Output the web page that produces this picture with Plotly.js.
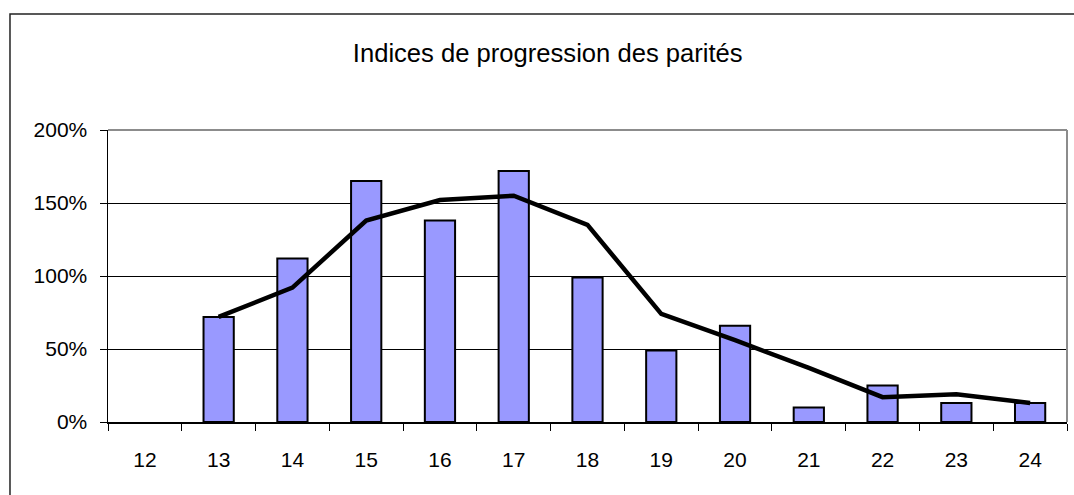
<!DOCTYPE html>
<html>
<head>
<meta charset="utf-8">
<script src="https://cdn.plot.ly/plotly-3.0.1.min.js"></script>
<style>
  html, body { margin: 0; padding: 0; background: #fff; }
  #chart { width: 1074px; height: 495px; }
</style>
</head>
<body>
<div id="chart"></div>
<script>
// Parity ages (categories) and their progression indices, in percent
const parites = ['12', '13', '14', '15', '16', '17', '18', '19', '20', '21', '22', '23', '24'];
const indices = [null, 72, 112, 165, 138, 172, 99, 49, 66, 10, 25, 13, 13];
const tendance = [null, 72, 92, 138, 152, 155, 135, 74, 56, 37, 17, 19, 13];
const yTicks = [0, 50, 100, 150, 200];

const FONT = 'Liberation Sans, Arial, sans-serif';

const traces = [
  {
    type: 'bar',
    x: parites,
    y: indices,
    width: 0.41,
    marker: { color: '#9999FF', line: { color: '#000000', width: 2 } },
    hoverinfo: 'x+y'
  },
  {
    type: 'scatter',
    mode: 'lines',
    x: parites,
    y: tendance,
    line: { color: '#000000', width: 4.5 },
    connectgaps: false,
    hoverinfo: 'x+y'
  }
];

const layout = {
  width: 1074,
  height: 495,
  margin: { l: 108, r: 7, t: 130, b: 73 },
  paper_bgcolor: '#ffffff',
  plot_bgcolor: '#ffffff',
  showlegend: false,
  font: { family: FONT, color: '#000000' },
  title: {
    text: 'Indices de progression des parités',
    font: { family: FONT, size: 25.6, color: '#000000' },
    xref: 'container', x: 0.510, xanchor: 'center',
    yref: 'container', y: 0.893, yanchor: 'middle'
  },
  xaxis: {
    type: 'category',
    categoryorder: 'array',
    categoryarray: parites,
    tickson: 'boundaries',
    ticks: 'outside',
    ticklen: 7,
    tickwidth: 1,
    tickcolor: '#000000',
    showline: true,
    linecolor: '#000000',
    linewidth: 1.5,
    showgrid: false,
    zeroline: false,
    tickfont: { family: FONT, size: 21, color: '#000000' },
    ticklabelstandoff: 18,
    fixedrange: true
  },
  yaxis: {
    range: [0, 200],
    tickvals: yTicks,
    ticktext: yTicks.map(v => v + '%'),
    ticks: 'outside',
    ticklen: 7,
    tickwidth: 1,
    tickcolor: '#000000',
    showline: true,
    linecolor: '#000000',
    linewidth: 1.5,
    showgrid: true,
    gridcolor: '#000000',
    gridwidth: 1,
    zeroline: false,
    tickfont: { family: FONT, size: 21, color: '#000000' },
    ticklabelstandoff: 8,
    fixedrange: true
  },
  shapes: [
    // outer chart frame
    {
      type: 'rect', xref: 'paper', yref: 'paper', layer: 'below',
      x0: -0.1022, x1: 1.2, y0: -0.5, y1: 1.397,
      line: { color: '#222222', width: 1.5 }, fillcolor: 'rgba(0,0,0,0)'
    },
    // grey top and right borders of the plotting area
    {
      type: 'line', xref: 'paper', yref: 'paper',
      x0: 0, x1: 1, y0: 1, y1: 1,
      line: { color: '#8c8c8c', width: 2 }
    },
    {
      type: 'line', xref: 'paper', yref: 'paper',
      x0: 1, x1: 1, y0: 0, y1: 1,
      line: { color: '#8c8c8c', width: 2 }
    }
  ]
};

Plotly.newPlot('chart', traces, layout, { displayModeBar: false, staticPlot: true });
</script>
</body>
</html>
